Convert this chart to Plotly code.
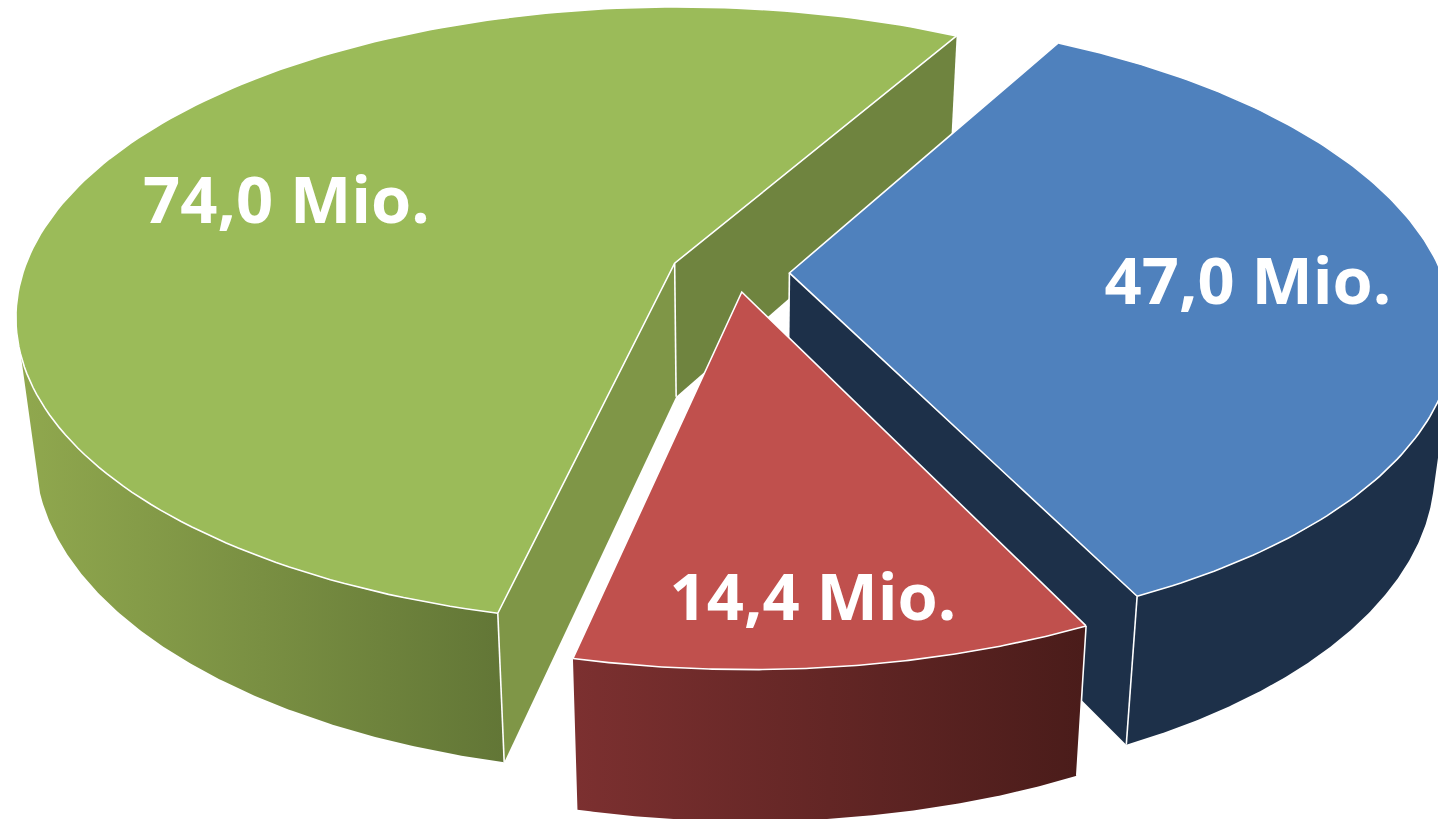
import numpy as np
import plotly.graph_objects as go

# Data
values = [74.0, 47.0, 14.4]
labels = [f"{v:.1f}".replace(".", ",") + " Mio." for v in values]

# Pie start angle and camera (style constants)
START = 60.5
CX, CY, RX, RY, PERSP, DEPTH, PERSP_Z, CONV, EXPLODE = 731, 273, 652, 303, 0.17, 134, 0.107, 0.027, 0.09
SKEW, SKEW_Y0 = 0.015, 290
NUDGE = [(-1.5, 0), (0, -1), (4, -8.5)]

TOPS = ["#9BBB59", "#4F81BD", "#C0504D"]
GREEN_BACK, GREEN_SIDE, BLUE_SIDE = "#6F843F", "#7F9647", "#1D3049"
EDGE = "white"


def project(X, Y, Z, i):
    X, Y = np.asarray(X, float), np.asarray(Y, float)
    s = 1 / (1 + PERSP * Y)
    y0 = CY - RY * Y * s
    x = CX + RX * X * (1 - CONV * Z) * s + SKEW * (y0 - SKEW_Y0) + NUDGE[i][0]
    y = y0 + DEPTH * Z / (1 + PERSP_Z * Y) + NUDGE[i][1]
    return x, y


def rim(a0, a1, i, Z=0.0, n=160):
    t = np.radians(np.linspace(a0, a1, n))
    return project(np.cos(t) + offs[i][0], np.sin(t) + offs[i][1], Z, i)


def corner(a, i, Z):
    t = np.radians(a)
    return project(np.cos(t) + offs[i][0], np.sin(t) + offs[i][1], Z, i)


def centre(i, Z):
    return project(offs[i][0], offs[i][1], Z, i)


def poly(x, y, color=None, gradient=None):
    kw = dict(fillgradient=gradient) if gradient else dict(fillcolor=color)
    return go.Scatter(x=list(x), y=list(y), mode="lines", fill="toself", line=dict(width=0),
                      hoverinfo="skip", showlegend=False, **kw)


def edge(x, y):
    return go.Scatter(x=list(x), y=list(y), mode="lines", line=dict(color=EDGE, width=1.6),
                      hoverinfo="skip", showlegend=False)


def grad(c0, c1):
    return dict(type="horizontal", colorscale=[[0, c0], [1, c1]])


def wall(a, i):
    c0, p0, p1, c1 = centre(i, 0), corner(a, i, 0), corner(a, i, 1), centre(i, 1)
    return [c0[0], p0[0], p1[0], c1[0], c0[0]], [c0[1], p0[1], p1[1], c1[1], c0[1]]


def band(a0, a1, i):
    xt, yt = rim(a0, a1, i, 0)
    xb, yb = rim(a0, a1, i, 1)
    return np.r_[xt, xb[::-1], xt[0]], np.r_[yt, yb[::-1], yt[0]]


def top(a0, a1, i, traces):
    c = centre(i, 0)
    x, y = rim(a0, a1, i)
    traces.append(poly(np.r_[c[0], x, c[0]], np.r_[c[1], y, c[1]], TOPS[i]))
    traces.append(edge(np.r_[x[0], c[0], x[-1]], np.r_[y[0], c[1], y[-1]]))
    traces.append(edge(x, y))


def vertical(p, q, traces):
    traces.append(edge([p[0], q[0]], [p[1], q[1]]))


# Slice angles: green runs counter-clockwise from START, the others clockwise
total = sum(values)
sweep = [v / total * 360 for v in values]
g0, g1 = START, START + sweep[0]
b0, b1 = START, START - sweep[1]
r0, r1 = b1, b1 - sweep[2]
offs = []
for a, b in [(g0, g1), (b0, b1), (r0, r1)]:
    m = np.radians((a + b) / 2)
    offs.append((EXPLODE * np.cos(m), EXPLODE * np.sin(m)))

traces = []
# Green
x, y = wall(g0, 0); traces.append(poly(x, y, GREEN_BACK))
x, y = band(197, g1, 0); traces.append(poly(x, y, gradient=grad("#90A84E", "#627636")))
x, y = wall(g1, 0); traces.append(poly(x, y, GREEN_SIDE))
top(g0, g1, 0, traces)
vertical(centre(0, 0), centre(0, 1), traces)
vertical(corner(g1, 0, 0), corner(g1, 0, 1), traces)

# Blue
x, y = wall(b1, 1); traces.append(poly(x, y, BLUE_SIDE))
x, y = band(b1, -15, 1); traces.append(poly(x, y, BLUE_SIDE))
top(b0, b1, 1, traces)
vertical(centre(1, 0), centre(1, 1), traces)
vertical(corner(b1, 1, 0), corner(b1, 1, 1), traces)

# Red
x, y = band(r1, r0, 2); traces.append(poly(x, y, gradient=grad("#7C3030", "#4A1C1A")))
top(r0, r1, 2, traces)
vertical(corner(r0, 2, 0), corner(r0, 2, 1), traces)

# Labels
label_x = [286.5, 1248, 813]
label_y = [207, 287.5, 603.5]
traces.append(go.Scatter(x=label_x, y=label_y, text=labels, mode="text", textposition="middle center",
                         textfont=dict(family="Open Sans", size=65, color="white", weight="bold"),
                         hoverinfo="skip", showlegend=False))

fig = go.Figure(traces)
fig.update_layout(width=1438, height=819, margin=dict(l=0, r=0, t=0, b=0), paper_bgcolor="white",
                  plot_bgcolor="white", showlegend=False,
                  xaxis=dict(range=[0, 1438], visible=False, fixedrange=True),
                  yaxis=dict(range=[819, 0], visible=False, fixedrange=True))
fig.write_html("out.html", post_script="document.body.style.margin='0';", config=dict(displayModeBar=False))
